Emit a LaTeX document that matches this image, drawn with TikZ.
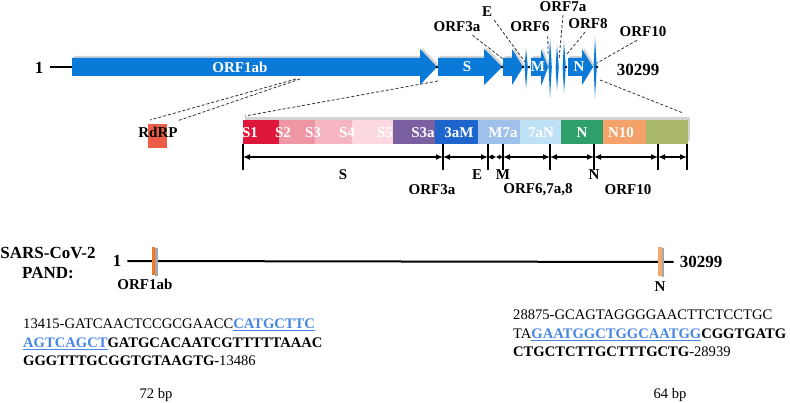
\documentclass[tikz,border=0pt]{standalone}
\usepackage{fontspec}
\setmainfont{Liberation Serif}
\usetikzlibrary{arrows.meta,shadows}
\definecolor{orfblue}{RGB}{10,122,216}
\definecolor{sone}{RGB}{222,22,58}
\definecolor{stwo}{RGB}{239,150,164}
\definecolor{sthree}{RGB}{245,182,193}
\definecolor{sfour}{RGB}{252,217,224}
\definecolor{sthreea}{RGB}{122,96,160}
\definecolor{threeam}{RGB}{30,100,205}
\definecolor{msevena}{RGB}{158,192,235}
\definecolor{sevenan}{RGB}{190,225,246}
\definecolor{ngreen}{RGB}{46,158,106}
\definecolor{nten}{RGB}{244,162,106}
\definecolor{olive}{RGB}{170,184,106}
\definecolor{rdrp}{RGB}{236,92,70}
\definecolor{pandorange}{RGB}{240,120,40}
\definecolor{pandlight}{RGB}{244,170,110}
\definecolor{primerblue}{RGB}{70,135,230}
\tikzset{
    >={Latex[length=7pt,width=6pt]},
    orf/.style={
        fill=orfblue,
        drop shadow={shadow xshift=1.5pt,shadow yshift=2pt,opacity=.35},
    },
    lbl/.style={
        font=\fontsize{15}{17}\selectfont\bfseries,
        inner sep=0pt,
    },
    inlbl/.style={
        lbl,
        text=white,
    },
    num/.style={
        font=\fontsize{17}{19}\selectfont\bfseries,
        inner sep=0pt,
    },
    lead/.style={
        densely dashed,
        line width=.8pt,
        black!80,
    },
    dim/.style={
        <->,
        line width=1.8pt,
    },
    dimsmall/.style={
        {Latex[length=4pt,width=5pt]}-{Latex[length=4pt,width=5pt]},
        line width=1.8pt,
    },
    seq/.style={
        font=\fontsize{14.6}{18.5}\selectfont,
        align=left,
        inner sep=0pt,
        anchor=north west,
    },
}
\newcommand\primer[1]{\textcolor{primerblue}{\underline{\textbf{#1}}}}

\begin{document}
\begin{tikzpicture}[x=1pt,y=-1pt]
    \useasboundingbox (0,0) rectangle (790,403);

    % genome with ORFs
    \node[num] (one) at (39,68) {1};
    \draw[line width=2pt] (50,67) -- (72,67);
    \fill[orf] (72,58) -- (420,58) -- (420,49) -- (437,67) -- (420,85) -- (420,76) -- (72,76) -- cycle;
    \fill[orf] (438,58) -- (484,58) -- (484,49) -- (502,67) -- (484,85) -- (484,76) -- (438,76) -- cycle;
    \fill[orf] (503,58) -- (512,58) -- (512,49) -- (523,67) -- (512,85) -- (512,76) -- (503,76) -- cycle;
    \fill[orf] (531,58) -- (541,58) -- (541,49) -- (548,67) -- (541,86) -- (541,76) -- (531,76) -- cycle;
    \fill[orf] (568,58) -- (582,58) -- (582,49) -- (593,67) -- (582,85) -- (582,76) -- (568,76) -- cycle;
    \foreach \x/\ya/\yb in {526/48/89, 550/38/98, 557/45/90, 564/41/93, 595/37/98}
        \fill[orfblue] (\x,\ya) -- (\x+1.8,67) -- (\x,\yb) -- (\x-1.4,67) -- cycle;
    \foreach \x in {437,502,523,529,566,597}
        \fill (\x,67) circle (1.3pt);
    \node[inlbl] (orf1ab) at (240,67) {ORF1ab};
    \node[inlbl] (orfs) at (467,67) {S};
    \node[inlbl] (orfm) at (538,67) {M};
    \node[inlbl] (orfn) at (579,67) {N};
    \node[num] (endtop) at (638,70) {30299};

    % ORF labels and leaders
    \node[lbl] (l3a) at (457,27) {ORF3a};
    \node[lbl] (le) at (487,12) {E};
    \node[lbl] (l6) at (530,27) {ORF6};
    \node[lbl] (l7a) at (563,7) {ORF7a};
    \node[lbl] (l8) at (588,24) {ORF8};
    \node[lbl] (l10) at (643,32) {ORF10};
    \coordinate (c3a) at (503,59);
    \coordinate (ce) at (525,62);
    \coordinate (c6) at (548,54);
    \coordinate (c7a) at (559,60);
    \coordinate (c8) at (567,54);
    \coordinate (c10) at (597,63);
    \draw[lead] ([xshift=-8pt,yshift=-3pt]l3a.south east) -- (c3a);
    \draw[lead] ([xshift=2pt,yshift=-3pt]le.south east) -- (ce);
    \draw[lead] ([xshift=-2pt,yshift=-4pt]l6.south east) -- (c6);
    \draw[lead] ([yshift=-3pt]l7a.south) -- (c7a);
    \draw[lead] ([xshift=-3pt,yshift=-3pt]l8.south) -- (c8);
    \draw[lead] ([xshift=-6pt,yshift=-3pt]l10.south) -- (c10);

    % RdRP
    \fill[rdrp] (148,124) rectangle (167,148);
    \node[lbl] (rdrplbl) at (158,132) {RdRP};
    \coordinate (z1) at (296,79);
    \coordinate (z2) at (300,79);
    \draw[lead] (z1) -- (150,120);
    \draw[lead] (z2) -- (177,121);

    % zoomed structural region
    \fill[white, drop shadow={shadow xshift=1.5pt,shadow yshift=2.5pt,opacity=.35}] (243,120) rectangle (688,144);
    \foreach \xa/\xb/\c in {243/279/sone, 279/315/stwo, 315/352/sthree, 352/393/sfour,
        393/435/sthreea, 435/478/threeam, 478/520/msevena, 520/561/sevenan,
        561/603/ngreen, 603/646/nten, 646/688/olive}
        \fill[\c] (\xa,120) rectangle (\xb,144);
    \foreach \x/\t in {250/S1, 283/S2, 313/S3, 347/S4, 385/S5, 423/S3a,
        459/3aM, 503/M7a, 541/7aN, 582/N, 621/N10}
        \node[inlbl] (b\t) at (\x,133) {\t};
    \coordinate (zs) at (438,81);
    \coordinate (ze) at (600,80);
    \draw[lead] (zs) -- (245,116);
    \draw[lead] (ze) -- (683,113);

    % spans
    \foreach \x [count=\i] in {243,443,488,503,550,594,658,687} {
        \coordinate (t\i) at (\x,157);
        \draw[line width=1.8pt] (\x,144) -- (\x,170);
    }
    \coordinate (tm) at (496,157);
    \draw[dim] (t1) -- (t2);
    \draw[dim] (t2) -- (t3);
    \draw[dimsmall] (t3) -- (tm);
    \draw[dimsmall] (tm) -- (t4);
    \draw[dim] (t4) -- (t5);
    \draw[dim] (t5) -- (t6);
    \draw[dim] (t6) -- (t7);
    \draw[dim] (t7) -- (t8);
    \node[lbl] (ds) at (343,175) {S};
    \node[lbl] (d3a) at (432,190) {ORF3a};
    \node[lbl] (de) at (477,175) {E};
    \node[lbl] (dm) at (503,175) {M};
    \node[lbl] (d678) at (538,190) {ORF6,7a,8};
    \node[lbl] (dn) at (594,175) {N};
    \node[lbl] (d10) at (628,190) {ORF10};

    % PAND
    \node[num] (virus) at (48,253) {SARS-CoV-2};
    \node[num] (pand) at (48,273) {PAND:};
    \node[num] (pstart) at (117,261) {1};
    \node[num] (pend) at (701,262) {30299};
    \draw[line width=2pt] (pstart.east) ++(6pt,0) -- ([xshift=-6pt]pend.west);
    \fill[black!35] (155,248) rectangle (157.5,276);
    \fill[pandorange] (151.5,247) rectangle (155,275);
    \fill[black!35] (661.5,248) rectangle (664,277);
    \fill[pandlight] (658,247) rectangle (661.5,276);
    \node[lbl] (p1ab) at (145,284) {ORF1ab};
    \node[lbl] (pn) at (660,287) {N};

    % amplicons
    \node[seq] (seqa) at (23,319) {13415-GATCAACTCCGCGAACC\primer{CATGCTTC}\\
        \primer{AGTCAGCT}\textbf{GATGCACAATCGTTTTTAAAC}\\
        \textbf{GGGTTTGCGGTGTAAGTG-}13486};
    \node[seq] (seqn) at (513,310) {28875-GCAGTAGGGGAACTTCTCCTGC\\
        TA\primer{GAATGGCTGGCAATGG}\textbf{CGGTGATG}\\
        \textbf{CTGCTCTTGCTTTGCTG}-28939};
    \node[font=\fontsize{14.6}{16}\selectfont, inner sep=0pt] (bpa) at (156,395) {72 bp};
    \node[font=\fontsize{14.6}{16}\selectfont, inner sep=0pt] (bpn) at (670,395) {64 bp};
\end{tikzpicture}
\end{document}
